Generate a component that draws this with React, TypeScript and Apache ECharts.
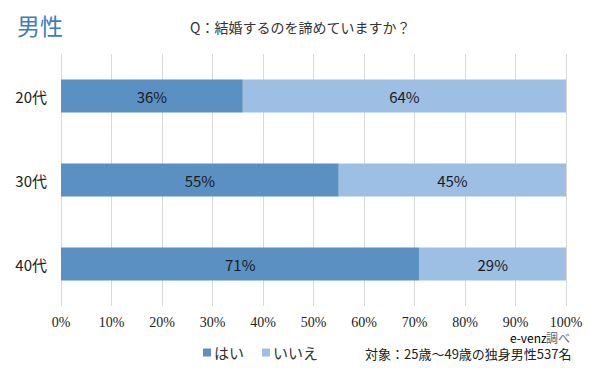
import React, { useEffect, useRef } from "react";
import * as echarts from "echarts";

const categories = ["20代", "30代", "40代"];
const yesValues = [36, 55, 71];
const noValues = [64, 45, 29];
const seriesNames = ["はい", "いいえ"];
const xTicks = [0, 10, 20, 30, 40, 50, 60, 70, 80, 90, 100];

export default function App() {
  const ref = useRef<HTMLDivElement>(null);
  useEffect(() => {
    if (!ref.current) return;
    const chart = echarts.init(ref.current, null, { renderer: "svg" });
    const sans = "Noto Sans CJK JP, Noto Sans, sans-serif";
    const serif = "Liberation Serif, Times New Roman, serif";
    chart.setOption({
      animation: false,
      backgroundColor: "#ffffff",
      grid: { left: 61, right: 24, top: 54, bottom: 65, containLabel: false },
      title: [
        {
          text: "男性",
          left: 12,
          top: 8,
          textStyle: { color: "#3b7cc6", fontSize: 23, fontWeight: "normal", fontFamily: sans },
        },
        {
          text: "Q：結婚するのを諦めていますか？",
          left: 185,
          top: 15,
          textStyle: { color: "#333333", fontSize: 14, fontWeight: "normal", fontFamily: sans },
        },
      ],
      legend: {
        left: 198,
        top: 340,
        itemWidth: 8,
        itemHeight: 8,
        itemGap: 18,
        icon: "rect",
        data: seriesNames,
        textStyle: { fontSize: 15, color: "#333", fontFamily: sans, padding: [0, 0, 0, -2] },
      },
      xAxis: {
        type: "value",
        min: 0,
        max: 100,
        interval: 10,
        axisLine: { show: false },
        axisTick: { show: false },
        splitLine: { show: true, lineStyle: { color: "#d9d9d9", width: 1 } },
        axisLabel: {
          margin: 9,
          color: "#222",
          fontSize: 14,
          fontFamily: serif,
          formatter: (v: number) => (xTicks.includes(v) ? v + "%" : ""),
        },
      },
      yAxis: {
        type: "category",
        data: categories,
        inverse: true,
        axisLine: { show: false },
        axisTick: { show: false },
        axisLabel: { margin: 14, color: "#222", fontSize: 15, fontFamily: sans },
      },
      series: [
        {
          name: seriesNames[0],
          type: "bar",
          stack: "total",
          data: yesValues,
          barWidth: 33,
          itemStyle: { color: "#5b90c2" },
          label: {
            show: true,
            position: "inside",
            formatter: "{c}%",
            color: "#1a1a1a",
            fontSize: 15,
            fontFamily: sans,
          },
        },
        {
          name: seriesNames[1],
          type: "bar",
          stack: "total",
          data: noValues,
          barWidth: 33,
          itemStyle: { color: "#9dbfe3" },
          label: {
            show: true,
            position: "inside",
            formatter: "{c}%",
            color: "#1a1a1a",
            fontSize: 15,
            fontFamily: sans,
          },
        },
      ],
      graphic: [
        {
          type: "text",
          left: 510,
          top: 331,
          style: {
            text: "e-venz",
            fill: "#000000",
            fontSize: 12,
            fontFamily: sans,
          },
        },
        {
          type: "text",
          left: 546,
          top: 331,
          style: {
            text: "調べ",
            fill: "#666666",
            fontSize: 12,
            fontFamily: sans,
          },
        },
        {
          type: "text",
          left: 365,
          top: 347,
          style: {
            text: "対象：25歳〜49歳の独身男性537名",
            fill: "#222",
            fontSize: 13,
            fontFamily: sans,
          },
        },
      ],
    });
    return () => chart.dispose();
  }, []);
  return <div ref={ref} style={{ width: 590, height: 371, position: "absolute", left: 0, top: 0 }} />;
}
